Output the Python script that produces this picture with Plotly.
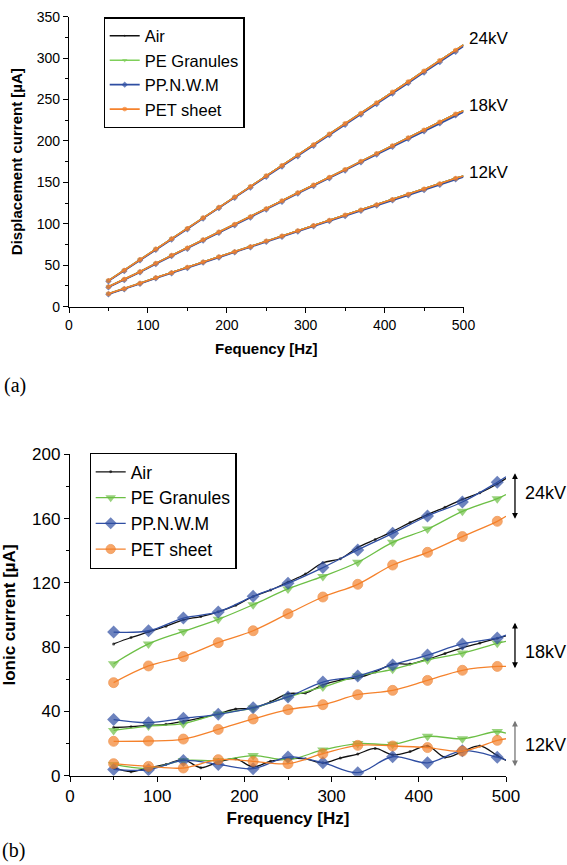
import plotly.graph_objects as go

W, H = 567, 865

# ---------------- data: (a) displacement current ----------------
freq_a = [50, 70, 90, 110, 130, 150, 170, 190, 210, 230, 250, 270, 290,
          310, 330, 350, 370, 390, 410, 430, 450, 470, 490, 500]

disp_24 = [31.5, 44, 57, 69.5, 82, 94.5, 107.5, 120, 132.5, 145, 158, 170.5,
           183, 195.5, 208.5, 221, 233.5, 246, 259, 271.5, 284.5, 297, 309.5, 316]
disp_18 = [24, 33, 42.2, 52.3, 62, 70.8, 80.9, 90.1, 99.4, 108.6, 118.3, 127.9,
           137.6, 146.8, 156.1, 165.7, 175.4, 185, 194.3, 204, 213.2, 222.8, 232.5, 236.5]
disp_12 = [15.7, 21.7, 28.2, 35, 41, 47.5, 53.9, 60.3, 66.4, 72.4, 79.2, 85.3,
           91.7, 98.1, 104.2, 110.6, 116.7, 123.1, 129.5, 135.6, 142, 148.4, 154.9, 157.7]
disp_24_pp = [30.8, 43.2, 56.2, 68.6, 81.1, 93.6, 106.5, 119, 131.4, 143.9, 156.8, 169.3,
              181.7, 194.2, 207.1, 219.6, 232, 244.5, 257.4, 269.9, 282.8, 295.3, 307.8, 314.3]
disp_18_pp = [23.4, 32.3, 41.5, 51.5, 61.2, 70, 80, 89.2, 98.4, 107.6, 117.3, 126.8,
              136.5, 145.6, 155, 164.5, 174.2, 183.7, 193, 202.6, 211.8, 221.4, 231, 235]
disp_12_pp = [15.1, 21.1, 27.6, 34.3, 40.3, 46.8, 53.2, 59.5, 65.6, 71.6, 78.4, 84.4,
              90.8, 97.2, 103.3, 109.6, 115.7, 122.1, 128.4, 134.5, 140.9, 147.3, 153.8, 156.6]

# ---------------- data: (b) ionic current ----------------
freq_b_air = [50, 70, 90, 110, 130, 150, 170, 190, 210, 230, 250, 270, 290,
              310, 330, 350, 370, 390, 410, 430, 450, 470, 490, 500]
freq_b = [50, 90, 130, 170, 210, 250, 290, 330, 370, 410, 450, 490, 500]

ion_air_24 = [82, 86, 89.5, 93, 97, 99, 102, 106, 111.5, 115.5, 120.5, 125.5, 132.5,
              135, 142, 147, 152, 157.5, 162.5, 167, 172, 176, 181.5, 185]
ion_air_18 = [30, 30.5, 31.3, 32, 33.8, 36, 38.5, 41.5, 42, 46, 51, 51.5, 56.5,
              59.5, 61, 64.5, 69.5, 69.5, 72.5, 76, 79.5, 82.5, 85.5, 87]
ion_air_12 = [5, 2.5, 5, 7, 10, 5, 8.5, 10.5, 5.5, 9, 10.5, 10.5, 8,
              11, 13.5, 17, 13, 15, 18.5, 11.5, 15, 18.5, 12.5, 9.5]

ion_pe_24 = [69.7, 82, 89.8, 97.3, 106.4, 116.2, 124, 132.8, 145.2, 153.5, 164.5, 172.4, 175]
ion_pe_18 = [28.2, 30.9, 32.4, 38.4, 42.1, 49, 55.2, 62, 66.2, 72, 76.3, 82.4, 83.6]
ion_pe_12 = [7, 4.5, 9.5, 9.5, 12.5, 10, 16, 20, 19.5, 24.5, 23, 27.5, 26.5]

ion_pp_24 = [89.4, 90.2, 98.1, 101.9, 111.6, 119.7, 129.5, 140.5, 150.8, 161.6, 170.3, 182.6, 186]
ion_pp_18 = [34.9, 33, 35.7, 38.2, 42.3, 49, 58.3, 62, 68.9, 75.1, 82, 85.7, 87.5]
ion_pp_12 = [3.9, 3.7, 9.5, 7, 4.4, 11.6, 8.1, 1.9, 11.8, 8, 15.5, 11.5, 9.8]

ion_pet_24 = [57.9, 68.3, 74.1, 82.8, 90.2, 100.8, 111.2, 119.1, 131.1, 139, 148.8, 158.3, 161.4]
ion_pet_18 = [21.4, 21.6, 22.8, 28.8, 35.3, 41.1, 44.2, 50.4, 53.1, 59.3, 65.6, 68, 68]
ion_pet_12 = [7.5, 5.8, 4.8, 10, 8.9, 7.5, 13.7, 18.9, 18.5, 17.5, 15.3, 22, 23]

materials = ["Air", "PE Granules", "PP.N.W.M", "PET sheet"]
voltages = ["24kV", "18kV", "12kV"]

# label / arrow positions (data units of the y axes)
label_a_y = [324, 243.4, 161.4]
arrow_b_top = [188.2, 95.2, 34.2]
label_b_y = [175.8, 77.2, 19.3]

# ---------------- styles ----------------
BLACK = "#111111"
GREEN_A = "#7fcf5a"
GREEN = "#6cbf45"
BLUE = "#2f4ea2"
ORANGE = "#f5822c"
FONT = "Liberation Sans"

fig = go.Figure()


def sizes(n, s):
    return [s] * (n - 1) + [0]


# ---- (a) ----
top_series = [
    ("Air", BLACK, "circle", 2, [disp_24, disp_18, disp_12]),
    ("PE Granules", GREEN_A, "triangle-down", 5, [disp_24, disp_18, disp_12]),
    ("PP.N.W.M", BLUE, "diamond", 5, [disp_24_pp, disp_18_pp, disp_12_pp]),
    ("PET sheet", ORANGE, "circle", 5, [disp_24, disp_18, disp_12]),
]
for name, col, sym, ms, ys in top_series:
    for i, yv in enumerate(ys):
        fig.add_trace(go.Scatter(
            x=freq_a, y=yv, mode="lines+markers", name=name,
            legend="legend", legendgroup="a" + name, showlegend=(i == 0),
            line=dict(color=col, width=1.6),
            marker=dict(symbol=sym, size=sizes(len(freq_a), ms), color=col,
                        line=dict(width=0)),
            xaxis="x", yaxis="y"))

# ---- (b) ----
bot_series = [
    ("Air", BLACK, "circle", 3, freq_b_air, [ion_air_24, ion_air_18, ion_air_12]),
    ("PE Granules", GREEN, "triangle-down", 10, freq_b, [ion_pe_24, ion_pe_18, ion_pe_12]),
    ("PP.N.W.M", BLUE, "diamond", 10, freq_b, [ion_pp_24, ion_pp_18, ion_pp_12]),
    ("PET sheet", ORANGE, "circle", 10, freq_b, [ion_pet_24, ion_pet_18, ion_pet_12]),
]
for name, col, sym, ms, xs, ys in bot_series:
    for i, yv in enumerate(ys):
        mk = dict(symbol=sym, size=sizes(len(xs), ms), color=col, line=dict(width=0))
        if name == "PET sheet":
            mk["line"] = dict(width=0.8, color="#e8731c")
        fig.add_trace(go.Scatter(
            x=xs, y=yv, mode="lines+markers", name=name,
            legend="legend2", legendgroup="b" + name, showlegend=(i == 0),
            line=dict(color=col, width=1.3, shape="spline", smoothing=1.0),
            marker=mk, xaxis="x2", yaxis="y2"))

# ---------------- layout ----------------
def px_x(p):
    return p / W


def px_y(p):
    return 1 - p / H


axis_common = dict(showline=True, linecolor="black", linewidth=1.3, mirror=False,
                   ticks="outside", tickcolor="black", tickwidth=1.3, ticklen=5,
                   showgrid=False, zeroline=False, automargin=False)

fig.update_layout(
    width=W, height=H, margin=dict(l=0, r=0, t=0, b=0),
    paper_bgcolor="white", plot_bgcolor="white",
    font=dict(family=FONT, color="black"),
    xaxis=dict(axis_common, domain=[px_x(69), px_x(463.5)], range=[0, 500], dtick=100,
               tickfont=dict(size=14),
               minor=dict(dtick=50, ticks="outside", ticklen=3, tickcolor="black", tickwidth=1.2),
               title=dict(text="<b>Fequency [Hz]</b>", font=dict(size=15), standoff=11),
               anchor="y"),
    yaxis=dict(axis_common, domain=[px_y(306.7), px_y(16.7)], range=[0, 350], dtick=50,
               tickfont=dict(size=14),
               minor=dict(dtick=25, ticks="outside", ticklen=3, tickcolor="black", tickwidth=1.2),
               title=dict(text="<b>Displacement current [µA]</b>", font=dict(size=15), standoff=10),
               anchor="x"),
    xaxis2=dict(axis_common, domain=[px_x(70), px_x(506)], range=[0, 500], dtick=100,
                tickfont=dict(size=17),
                minor=dict(dtick=50, ticks="outside", ticklen=3, tickcolor="black", tickwidth=1.2),
                title=dict(text="<b>Frequency [Hz]</b>", font=dict(size=17), standoff=6),
                anchor="y2"),
    yaxis2=dict(axis_common, domain=[px_y(775.7), px_y(454.3)], range=[0, 200], dtick=40,
                tickfont=dict(size=17),
                minor=dict(dtick=20, ticks="outside", ticklen=3, tickcolor="black", tickwidth=1.2),
                title=dict(text="<b>Ionic current [µA]</b>", font=dict(size=17), standoff=14),
                anchor="x2"),
    legend=dict(x=px_x(103.5), y=px_y(17.3), xanchor="left", yanchor="top",
                bordercolor="black", borderwidth=1.2, bgcolor="white",
                font=dict(size=16.5, family=FONT, color="black"), tracegroupgap=0),
    legend2=dict(x=px_x(89.5), y=px_y(452.7), xanchor="left", yanchor="top",
                 bordercolor="black", borderwidth=1.2, bgcolor="white",
                 font=dict(size=17.5, family=FONT, color="black"), tracegroupgap=0),
)

ann = []
# top labels (placed just right of the x axis end)
for txt, yv in zip(voltages, label_a_y):
    ann.append(dict(x=1.008, y=yv, xref="x domain", yref="y", text=txt, showarrow=False,
                    xanchor="left", yanchor="middle", font=dict(size=17, family=FONT)))
# bottom double arrows + labels
arrow_cols = ["black", "black", "#777777"]
for txt, y1, col, ly in zip(voltages, arrow_b_top, arrow_cols, label_b_y):
    ann.append(dict(x=1.0206, y=y1, xref="x2 domain", yref="y2", ax=0, ay=47,
                    text="", showarrow=True, arrowhead=2, startarrowhead=2, arrowside="end+start",
                    arrowsize=0.9, arrowwidth=1.3, arrowcolor=col))
    ann.append(dict(x=1.039, y=ly, xref="x2 domain", yref="y2", text=txt, showarrow=False,
                    xanchor="left", yanchor="middle", font=dict(size=18, family=FONT)))
# panel labels
ann.append(dict(x=px_x(2), y=px_y(385), xref="paper", yref="paper", text="(a)", showarrow=False,
                xanchor="left", yanchor="middle", font=dict(size=20, family="Liberation Serif")))
ann.append(dict(x=px_x(0), y=px_y(850), xref="paper", yref="paper", text="(b)", showarrow=False,
                xanchor="left", yanchor="middle", font=dict(size=20, family="Liberation Serif")))
fig.update_layout(annotations=ann)

fig.write_html("out.html", config={"displayModeBar": False},
               post_script="document.body.style.margin='0';")
